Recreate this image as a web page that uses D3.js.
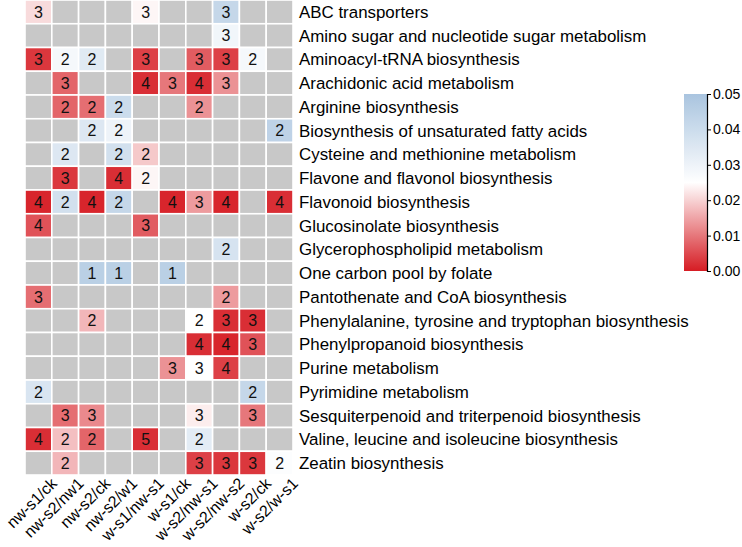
<!DOCTYPE html>
<html><head><meta charset="utf-8">
<script src="https://cdn.jsdelivr.net/npm/d3@7"></script>
<style>body{margin:0;background:#fff}svg{display:block;font-family:"Liberation Sans",Arial,sans-serif}</style>
</head><body><svg id="c" width="742" height="547"></svg>
<script>
const pathways = ["ABC transporters","Amino sugar and nucleotide sugar metabolism","Aminoacyl-tRNA biosynthesis","Arachidonic acid metabolism","Arginine biosynthesis","Biosynthesis of unsaturated fatty acids","Cysteine and methionine metabolism","Flavone and flavonol biosynthesis","Flavonoid biosynthesis","Glucosinolate biosynthesis","Glycerophospholipid metabolism","One carbon pool by folate","Pantothenate and CoA biosynthesis","Phenylalanine, tyrosine and tryptophan biosynthesis","Phenylpropanoid biosynthesis","Purine metabolism","Pyrimidine metabolism","Sesquiterpenoid and triterpenoid biosynthesis","Valine, leucine and isoleucine biosynthesis","Zeatin biosynthesis"];
const comparisons = ["nw-s1/ck","nw-s2/nw1","nw-s2/ck","nw-s2/w1","w-s1/nw-s1","w-s1/ck","w-s2/nw-s1","w-s2/nw-s2","w-s2/ck","w-s2/w-s1"];
const _ = null;
// p-values (null = not enriched)
const pValues = [
 [0.021,_,_,_,0.024,_,_,0.042,_,_],
 [_,_,_,_,_,_,_,0.029,_,_],
 [0.003,0.028,0.034,_,0.004,_,0.007,0.004,0.028,_],
 [_,0.008,_,_,0.002,0.010,0.002,0.013,_,_],
 [_,0.008,0.009,0.040,_,_,0.013,_,_,_],
 [_,_,0.035,0.030,_,_,_,_,_,0.044],
 [_,0.035,_,0.038,0.019,_,_,_,_,_],
 [_,0.003,_,0.002,0.024,_,_,_,_,_],
 [0.001,0.038,0.001,0.042,_,0.001,0.014,0.001,_,0.002],
 [0.006,_,_,_,0.007,_,_,_,_,_],
 [_,_,_,_,_,_,_,0.037,_,_],
 [_,_,0.045,0.045,_,0.045,_,_,_,_],
 [0.009,_,_,_,_,_,_,0.014,_,_],
 [_,_,0.017,_,_,_,0.025,0.002,0.002,_],
 [_,_,_,_,_,_,0.002,0.001,0.006,_],
 [_,_,_,_,_,0.013,0.025,0.004,_,_],
 [0.036,_,_,_,_,_,_,_,0.042,_],
 [_,0.009,0.012,_,_,_,0.023,_,0.010,_],
 [0.002,0.018,0.008,_,0.002,_,0.033,_,_,_],
 [_,0.017,_,_,_,_,0.004,0.003,0.003,0.026]
];
// gene counts shown in cells
const geneCounts = [
 [3,_,_,_,3,_,_,3,_,_],
 [_,_,_,_,_,_,_,3,_,_],
 [3,2,2,_,3,_,3,3,2,_],
 [_,3,_,_,4,3,4,3,_,_],
 [_,2,2,2,_,_,2,_,_,_],
 [_,_,2,2,_,_,_,_,_,2],
 [_,2,_,2,2,_,_,_,_,_],
 [_,3,_,4,2,_,_,_,_,_],
 [4,2,4,2,_,4,3,4,_,4],
 [4,_,_,_,3,_,_,_,_,_],
 [_,_,_,_,_,_,_,2,_,_],
 [_,_,1,1,_,1,_,_,_,_],
 [3,_,_,_,_,_,_,2,_,_],
 [_,_,2,_,_,_,2,3,3,_],
 [_,_,_,_,_,_,4,4,3,_],
 [_,_,_,_,_,3,3,4,_,_],
 [2,_,_,_,_,_,_,_,2,_],
 [_,3,3,_,_,_,3,_,3,_],
 [4,2,2,_,5,_,2,_,_,_],
 [_,2,_,_,_,_,3,3,3,2]
];
const legendTicks = [0,0.01,0.02,0.03,0.04,0.05];

const svg = d3.select("#c");
const gx0 = 25, gx1 = 293, gy0 = 0, gy1 = 475;
const x = d3.scaleBand().domain(comparisons).range([gx0,gx1]).padding(0);
const y = d3.scaleBand().domain(pathways).range([gy0,gy1]).padding(0);
const color = d3.scaleLinear().domain([0,0.025,0.05]).range(["#d61c23","#ffffff","#a9c4df"]);
const naColor = "#c8c8c8";

const cells = [];
pathways.forEach((p,i)=>comparisons.forEach((c,j)=>cells.push({p,c,v:pValues[i][j],n:geneCounts[i][j]})));

svg.append("g").selectAll("rect").data(cells).join("rect")
  .attr("x",d=>x(d.c)).attr("y",d=>y(d.p))
  .attr("width",x.bandwidth()).attr("height",y.bandwidth())
  .attr("fill",d=>d.v==null?naColor:color(d.v))
  .attr("stroke","#fff").attr("stroke-width",1.6);

svg.append("g").selectAll("text").data(cells.filter(d=>d.n!=null)).join("text")
  .attr("x",d=>x(d.c)+x.bandwidth()/2).attr("y",d=>y(d.p)+y.bandwidth()/2)
  .attr("text-anchor","middle").attr("dy","0.36em")
  .attr("font-size",16).attr("fill","#111").text(d=>d.n);

svg.append("g").selectAll("text").data(pathways).join("text")
  .attr("x",gx1+6).attr("y",d=>y(d)+y.bandwidth()/2).attr("dy","0.36em")
  .attr("font-size",16.9).attr("fill","#000").text(d=>d);

svg.append("g").selectAll("text").data(comparisons).join("text")
  .attr("transform",d=>`translate(${x(d)+x.bandwidth()/2+11},${gy1+1}) rotate(-45)`)
  .attr("text-anchor","end").attr("dy","0.75em")
  .attr("font-size",16).attr("fill","#000").text(d=>d);

// legend
const lx = 684, lw = 23, ly0 = 94, ly1 = 271;
const defs = svg.append("defs");
const grad = defs.append("linearGradient").attr("id","lg").attr("x1",0).attr("y1",1).attr("x2",0).attr("y2",0);
d3.range(0,1.0001,0.05).forEach(t=>grad.append("stop").attr("offset",t).attr("stop-color",color(t*0.05)));
svg.append("rect").attr("x",lx).attr("y",ly0).attr("width",lw).attr("height",ly1-ly0).attr("fill","url(#lg)");
const ly = d3.scaleLinear().domain([0,0.05]).range([ly1,ly0]);
const ax = svg.append("g").attr("transform",`translate(${lx+lw},0)`)
  .call(d3.axisRight(ly).tickValues(legendTicks).tickFormat(d3.format(".2f")).tickSize(4).tickPadding(2));
ax.select(".domain").attr("stroke","#000").attr("stroke-width",1.2);
ax.selectAll(".tick line").attr("stroke","#000");
ax.selectAll(".tick text").attr("font-size",14).attr("fill","#000").attr("font-family","Liberation Sans, Arial, sans-serif");
</script></body></html>
